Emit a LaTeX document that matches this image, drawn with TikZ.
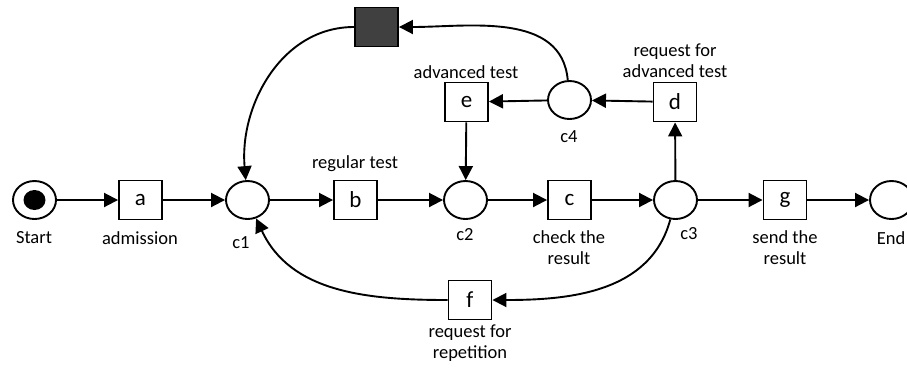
\documentclass[tikz,border=0pt]{standalone}
\usepackage{fontspec}
\setmainfont{Carlito}
\usetikzlibrary{arrows.meta,shapes.geometric}

\begin{document}
\begin{tikzpicture}[x=1pt,y=-1pt,line width=1.9pt,>={Triangle[length=14pt,width=14pt]},
  place/.style={draw,ellipse,minimum width=43pt,minimum height=38pt,inner sep=0pt},
  trans/.style={draw,minimum width=43pt,minimum height=39pt,inner sep=0pt,font=\fontsize{23}{23}\selectfont},
  lbl/.style={font=\fontsize{18.5}{21}\selectfont,align=center,inner sep=0pt}]
  \useasboundingbox (0,0) rectangle (907,368);
  % places and transitions
  \node[place] (start) at (34.5,200) {};
  \node[ellipse,fill,minimum width=22pt,minimum height=20pt,inner sep=0pt] (token) at (start) {};
  \node[trans] (a) at (140.5,200) {a};
  \node[place] (c1) at (247.5,200) {};
  \node[trans] (b) at (355.5,200) {b};
  \node[place] (c2) at (465.5,200) {};
  \node[trans] (c) at (569.5,200) {c};
  \node[place] (c3) at (675.5,200) {};
  \node[trans] (g) at (785,200) {g};
  \node[place] (end) at (891.5,200) {};
  \node[trans] (e) at (466.5,102) {e};
  \node[place] (c4) at (569.5,100) {};
  \node[trans] (d) at (675,102) {d};
  \node[trans,fill=black!75] (tau) at (376.5,27) {};
  \node[trans] (f) at (470,300) {f};
  % labels
  \node[lbl] (lstart) at (34,238) {Start};
  \node[lbl] (la) at (140,238) {admission};
  \node[lbl] (lc1) at (241,243) {c1};
  \node[lbl] (lb) at (355,164) {regular test};
  \node[lbl] (lc2) at (465,235) {c2};
  \node[lbl] (lc) at (569,248) {check the\\result};
  \node[lbl] (lc3) at (689,234) {c3};
  \node[lbl] (lg) at (785,248) {send the\\result};
  \node[lbl] (lend) at (891,238) {End};
  \node[lbl] (le) at (466,72) {advanced test};
  \node[lbl] (lc4) at (569,137) {c4};
  \node[lbl] (ld) at (675,61) {request for\\advanced test};
  \node[lbl] (lf) at (470,343) {request for\\repetition};
  % arcs
  \draw[->] (start) -- (a);
  \draw[->] (a) -- (c1);
  \draw[->] (c1) -- (b);
  \draw[->] (b) -- (c2);
  \draw[->] (c2) -- (c);
  \draw[->] (c) -- (c3);
  \draw[->] (c3) -- (g);
  \draw[->] (g) -- (end);
  \draw[->] (c3) -- (d);
  \draw[->] (d) -- (c4);
  \draw[->] (c4) -- (e);
  \draw[->] (e) -- (c2);
  \draw[->] (c4) to[out=95,in=0] (tau);
  \draw[->] (tau) to[out=180,in=95] (c1);
  \draw[->] (c3) to[out=-105,in=0] (f);
  \draw[->] (f) to[out=180,in=-65] (c1);
\end{tikzpicture}
\end{document}
